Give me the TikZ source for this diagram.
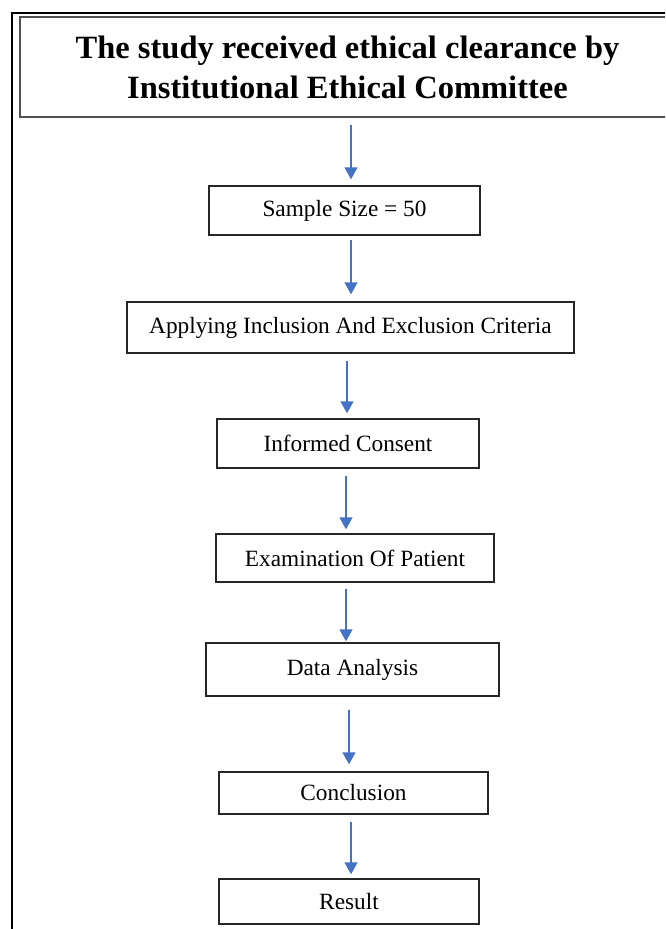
\documentclass[tikz,border=0pt]{standalone}
\usepackage{fontspec}
\setmainfont{Liberation Serif}
\usetikzlibrary{arrows.meta}
\definecolor{arrowblue}{RGB}{68,114,196}
\definecolor{titlegray}{RGB}{80,80,80}

\begin{document}
\begin{tikzpicture}[
  x=1pt, y=-1pt,
  stepbox/.style={draw=black!85, line width=1.4pt, inner sep=0pt, align=center, font=\fontsize{23.3}{27}\selectfont},
  titlebox/.style={draw=titlegray, line width=2pt, inner sep=0pt, align=center, font=\fontsize{32.5}{40}\selectfont\bfseries},
  arrow/.style={-{Triangle[length=12pt, width=13pt]}, draw=arrowblue, fill=arrowblue, line width=1.4pt},
]
\useasboundingbox (0,0) rectangle (665,929);
\clip (0,0) rectangle (665,929);

% Frame
\draw[line width=2.8pt] (12,13) rectangle (685,950);

% Nodes
\node[titlebox, minimum width=655pt, minimum height=100pt] (title) at (347.5,67) {The study received ethical clearance by\\Institutional Ethical Committee};
\node[stepbox, minimum width=271pt, minimum height=49pt] (sample) at (344.5,210.5) {Sample Size = 50};
\node[stepbox, minimum width=447pt, minimum height=51pt] (criteria) at (350.5,327.5) {Applying Inclusion And Exclusion Criteria};
\node[stepbox, minimum width=262pt, minimum height=49pt] (consent) at (348,443.5) {Informed Consent};
\node[stepbox, minimum width=278pt, minimum height=48pt] (exam) at (355,558) {Examination Of Patient};
\node[stepbox, minimum width=293pt, minimum height=53pt] (analysis) at (352.5,669.5) {Data Analysis};
\node[stepbox, minimum width=269pt, minimum height=42pt] (conclusion) at (353.5,793) {Conclusion};
\node[stepbox, minimum width=260pt, minimum height=45pt] (result) at (349,901.5) {Result};

% Arrows
\draw[arrow, shorten <=7pt, shorten >=6pt] (title.south -| 351,0) -- (sample.north -| 351,0);
\draw[arrow, shorten <=4pt, shorten >=7pt] (sample.south -| 351,0) -- (criteria.north -| 351,0);
\draw[arrow, shorten <=7pt, shorten >=5pt] (criteria.south -| 347,0) -- (consent.north -| 347,0);
\draw[arrow, shorten <=7pt, shorten >=4pt] (consent.south -| 346,0) -- (exam.north -| 346,0);
\draw[arrow, shorten <=6pt, shorten >=1pt] (exam.south -| 346,0) -- (analysis.north -| 346,0);
\draw[arrow, shorten <=13pt, shorten >=7pt] (analysis.south -| 349,0) -- (conclusion.north -| 349,0);
\draw[arrow, shorten <=7pt, shorten >=4pt] (conclusion.south -| 351,0) -- (result.north -| 351,0);
\end{tikzpicture}
\end{document}
